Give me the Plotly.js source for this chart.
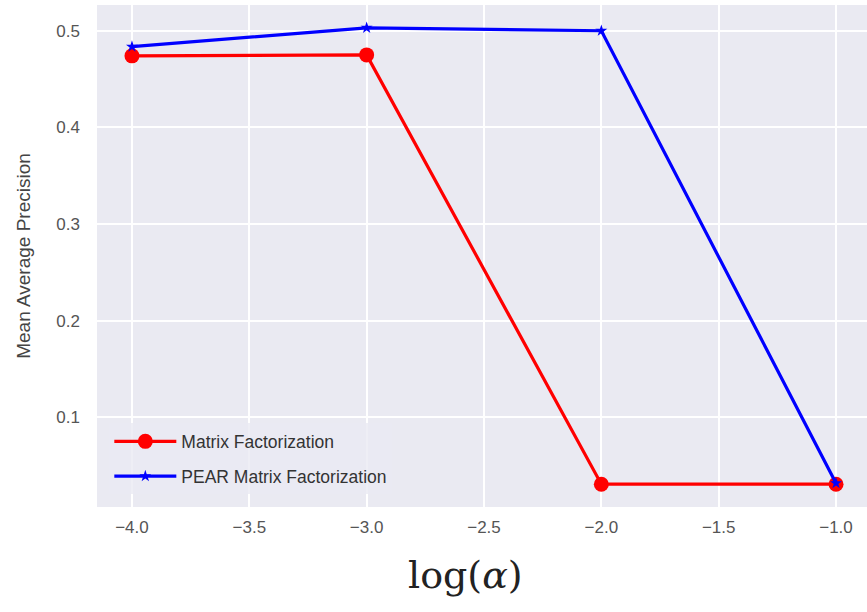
<!DOCTYPE html>
<html>
<head>
<meta charset="utf-8">
<script src="https://cdn.plot.ly/plotly-3.0.1.min.js"></script>
<style>html,body{margin:0;padding:0;background:#fff;}#chart{width:867px;height:612px;}</style>
</head>
<body>
<div id="chart"></div>
<script>
const logAlpha = [-4.0, -3.0, -2.0, -1.0];
const mfValues = [0.474, 0.475, 0.031, 0.031];
const pearValues = [0.4835, 0.503, 0.500, 0.032];
const xTickVals = [-4.0, -3.5, -3.0, -2.5, -2.0, -1.5, -1.0];
const xTickText = ['\u22124.0', '\u22123.5', '\u22123.0', '\u22122.5', '\u22122.0', '\u22121.5', '\u22121.0'];
const yTickVals = [0.1, 0.2, 0.3, 0.4, 0.5];
const yTickText = ['0.1', '0.2', '0.3', '0.4', '0.5'];

const traces = [
  {
    x: logAlpha, y: mfValues, name: 'Matrix Factorization',
    mode: 'lines+markers', type: 'scatter', legendgroup: 'a',
    line: {color: '#ff0000', width: 3.2},
    marker: {symbol: 'circle', size: 15, color: '#ff0000'}
  },
  {
    x: logAlpha, y: pearValues, name: 'PEAR Matrix Factorization',
    mode: 'lines+markers', type: 'scatter', legendgroup: 'b',
    line: {color: '#0000ff', width: 3.2},
    marker: {symbol: 'star', size: 9, color: '#0000ff'}
  }
];

const layout = {
  width: 867, height: 612,
  margin: {l: 97, r: 0, t: 5, b: 105},
  paper_bgcolor: '#ffffff',
  plot_bgcolor: '#eaeaf2',
  showlegend: true,
  legend: {
    x: 0.016, y: 0.025, xanchor: 'left', yanchor: 'bottom',
    bgcolor: 'rgba(234,234,242,0.8)',
    font: {family: 'Liberation Sans, Arial, sans-serif', size: 17.5, color: '#333333'},
    traceorder: 'grouped', tracegroupgap: 9,
    itemwidth: 62
  },
  annotations: [{
    text: 'log(<i>α</i>)', xref: 'paper', yref: 'paper', x: 0.478, y: -0.135,
    xanchor: 'center', yanchor: 'middle', showarrow: false,
    font: {family: 'DejaVu Serif, Liberation Serif, serif', size: 38, color: '#222222'}
  }],
  xaxis: {
    range: [-4.149, -0.868],
    tickvals: xTickVals, ticktext: xTickText,
    showgrid: true, gridcolor: '#ffffff', gridwidth: 2,
    zeroline: false, showline: false, ticks: '',
    ticklabelstandoff: 8,
    tickfont: {family: 'Liberation Sans, Arial, sans-serif', size: 17, color: '#555555'}
  },
  yaxis: {
    range: [0.0074, 0.5266],
    tickvals: yTickVals, ticktext: yTickText,
    showgrid: true, gridcolor: '#ffffff', gridwidth: 2,
    zeroline: false, showline: false, ticks: '',
    ticklabelstandoff: 16,
    tickfont: {family: 'Liberation Sans, Arial, sans-serif', size: 17, color: '#555555'},
    title: {text: 'Mean Average Precision', font: {family: 'Liberation Sans, Arial, sans-serif', size: 19, color: '#444444'}, standoff: 20}
  }
};

Plotly.newPlot('chart', traces, layout, {displayModeBar: false, staticPlot: true});
</script>
</body>
</html>
